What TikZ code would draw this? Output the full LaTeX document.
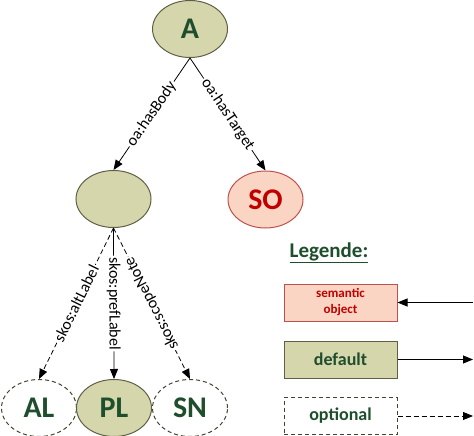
\documentclass[tikz,border=0pt]{standalone}
\usepackage{fontspec}
\setmainfont{Carlito}
\usetikzlibrary{shapes.geometric,arrows.meta}
\definecolor{olivefill}{RGB}{214,214,173}
\definecolor{olivedraw}{RGB}{95,95,70}
\definecolor{greentext}{RGB}{30,78,44}
\definecolor{salmonfill}{RGB}{250,213,195}
\definecolor{reddraw}{RGB}{192,80,77}
\definecolor{redtext}{RGB}{192,0,0}

\begin{document}
\begin{tikzpicture}[x=1pt,y=-1pt,
    res/.style={ellipse,minimum width=75pt,minimum height=57pt,inner sep=0pt,
        line width=1pt,font=\fontsize{30}{36}\selectfont\bfseries},
    default/.style={res,draw=olivedraw,fill=olivefill,text=greentext},
    semobj/.style={res,draw=reddraw,fill=salmonfill,text=redtext},
    optional/.style={res,draw=olivedraw!70!black,dash pattern=on 4pt off 3pt,fill=white,text=greentext},
    legbox/.style={rectangle,minimum width=113pt,minimum height=37pt,inner sep=0pt,line width=1pt},
    lbl/.style={fill=white,inner sep=1.5pt,font=\fontsize{16}{19}\selectfont},
    arr/.style={-{Triangle[length=10pt,width=8pt]},line width=0.8pt},
    optarr/.style={arr,dash pattern=on 5pt off 3pt}]
    \useasboundingbox (0,0) rectangle (474,436);
    \node[default] (anno) at (190,29) {A};
    \node[default] (body) at (113.5,199) {};
    \node[semobj] (so) at (265.5,199.5) {SO};
    \node[optional] (al) at (39,408) {AL};
    \node[default] (pl) at (114,408) {PL};
    \node[optional] (sn) at (190,408) {SN};
    \draw[arr] (anno.south) -- node[midway,sloped,lbl] {oa:hasBody} (body.north);
    \draw[arr] (anno.south) -- node[midway,sloped,lbl] {oa:hasTarget} (so.north);
    \draw[optarr] (body.south) -- node[midway,sloped,lbl] {skos:altLabel} (al.north);
    \draw[arr] (body.south) -- node[midway,sloped,lbl] {skos:prefLabel} (pl.north);
    \draw[optarr] (body.south) -- node[midway,sloped,rotate=180,lbl] {skos:scopeNote} (sn.north);
    \node[text=greentext,font=\fontsize{21}{25}\selectfont\bfseries] (legende) at (329,253) {\underline{Legende:}};
    \node[legbox,draw=reddraw,fill=salmonfill,text=redtext,align=center,
        font=\fontsize{13}{16}\selectfont\bfseries] (legso) at (340.5,302.5) {semantic\\object};
    \node[legbox,draw=olivedraw,fill=olivefill,text=greentext,
        font=\fontsize{18}{22}\selectfont\bfseries] (legdef) at (340.5,359.5) {default};
    \node[legbox,draw=olivedraw!70!black,dash pattern=on 4pt off 3pt,text=greentext,
        font=\fontsize{18}{22}\selectfont\bfseries] (legopt) at (340.5,416) {optional};
    \coordinate (soin) at (473,302.5);
    \coordinate (defout) at (473,359.5);
    \coordinate (optout) at (473,416);
    \draw[arr] (soin) -- (legso.east);
    \draw[arr] (legdef.east) -- (defout);
    \draw[optarr] (legopt.east) -- (optout);
\end{tikzpicture}
\end{document}
